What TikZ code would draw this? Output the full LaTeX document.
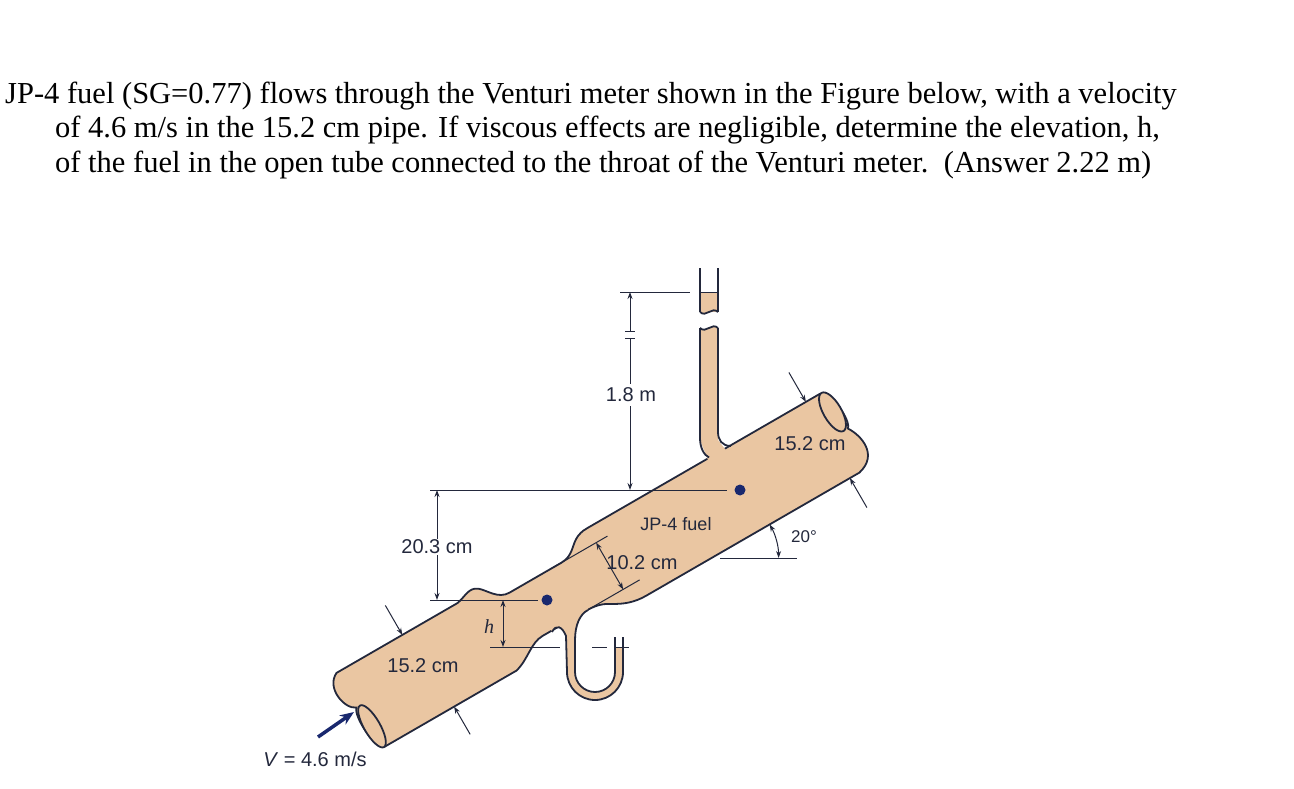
\documentclass[tikz,border=0pt]{standalone}
\usepackage{fontspec}
\setmainfont{Liberation Serif}
\setsansfont{Liberation Sans}
\usetikzlibrary{arrows.meta}
\definecolor{tan}{RGB}{234,198,162}
\definecolor{ink}{RGB}{35,40,60}
\definecolor{navy}{RGB}{25,40,110}
\tikzset{
  pipeline/.style={draw=ink,line width=1.8pt},
  dim/.style={draw=ink,line width=1pt},
  dimarr/.style={dim,-{Stealth[length=7pt,width=5pt]}},
  dimboth/.style={dim,{Stealth[length=7pt,width=5pt]}-{Stealth[length=7pt,width=5pt]}},
  lbl/.style={font=\sffamily\fontsize{20}{24}\selectfont,text=ink,inner sep=1pt},
  title/.style={font=\fontsize{30.5}{34}\selectfont,anchor=base west,inner sep=0pt},
  dot/.style={circle,fill=navy,minimum size=11pt,inner sep=0pt}
}
\begin{document}
\begin{tikzpicture}[x=1pt,y=-1pt]
\useasboundingbox (0,0) rectangle (1294,789);
% title
\node[title] (t1) at (5,104) {JP-4 fuel (SG=0.77) flows through the Venturi meter shown in the Figure below, with a velocity};
\node[title] (t2) at (55,138) {of 4.6 m/s in the 15.2 cm pipe. If viscous effects are negligible, determine the elevation, h,};
\node[title] (t3) at (55,172) {of the fuel in the open tube connected to the throat of the Venturi meter.\ \ (Answer 2.22 m)};

% pipe in local (s,t) coordinates
\begin{scope}[x=1pt,y=1pt,cm={0.866,0.5,0.5,-0.866,(397.5pt,-688.5pt)}]
\path[pipeline,fill=tan] (-45,-44) -- (95,-44)
  .. controls (105,-46) and (112,-52) .. (120,-46)
  .. controls (127,-40) and (132,-27) .. (145,-27) -- (205,-27)
  .. controls (219,-27) and (223,-38) .. (233,-42)
  .. controls (239,-44) .. (250,-44) -- (513,-44)
  .. controls (524,-42) and (527,-5) .. (520,0)
  .. controls (528,12) and (534,38) .. (508,44)
  -- (262,44) .. controls (248,44) and (238,40) .. (228,34)
  .. controls (220,29) and (214,27) .. (202,27) -- (152,27)
  .. controls (138,27) and (128,40) .. (112,44) -- (-40,44)
  .. controls (-50,40) and (-52,2) .. (-45,-4)
  .. controls (-56,-8) and (-62,-36) .. (-45,-44) -- cycle;
\draw[pipeline,fill=tan] (515,-22) ellipse[x radius=9,y radius=22];
\draw[pipeline,fill=tan] (-41,20) ellipse[x radius=8,y radius=24];
% 10.2 cm extension lines and arrow
\draw[dim] (192,-27) -- (258,-27);
\draw[dim] (205,27) -- (264,27);
\draw[dimboth] (245,-27) -- (245,27);
% 15.2 cm arrows
\draw[dimarr] (497,-78) -- (497,-44);
\draw[dimarr] (497,78) -- (497,44);
\draw[dimarr] (31,-78) -- (31,-44);
\draw[dimarr] (40,76) -- (40,44);
\end{scope}

% piezometer tube (upper)
\fill[tan] (700,328) -- (700,440) -- (712,470) -- (732,458) -- (718,440) -- (718,328) .. controls (712,322) and (706,334) .. (700,328) -- cycle;
\draw[pipeline] (700,328) -- (700,438) .. controls (700,448) and (704,455) .. (709,457.5);
\draw[pipeline] (718,328) -- (718,432) .. controls (718,440) and (722,446) .. (731,446);
\draw[pipeline] (700,328) .. controls (706,334) and (712,322) .. (718,328);
\fill[tan] (700,292) rectangle (718,312);
\fill[tan] (700,312) .. controls (706,318) and (712,306) .. (718,312) -- (718,310) -- (700,310) -- cycle;
\draw[pipeline] (700,268) -- (700,312);
\draw[pipeline] (718,268) -- (718,312);
\draw[pipeline] (700,312) .. controls (706,318) and (712,306) .. (718,312);
\draw[dim] (700,292) -- (718,292);

% U tube (lower)
\fill[tan] (552,632) .. controls (556,624) and (562,626) .. (566,636) -- (567,672)
  arc[start angle=180,end angle=0,radius=28] -- (623,647) -- (615,647) -- (615,672)
  arc[start angle=0,end angle=180,radius=20] -- (575,640)
  .. controls (575,625) and (580,614) .. (588,610) -- (586,600) -- (548,622) -- cycle;
\draw[pipeline] (552,632) .. controls (556,624) and (562,626) .. (566,636) -- (567,672)
  arc[start angle=180,end angle=0,radius=28] -- (623,637);
\draw[pipeline] (615,637) -- (615,672) arc[start angle=0,end angle=180,radius=20] -- (575,640)
  .. controls (575,625) and (580,614) .. (588,610);

% dots
\node[dot] (d1) at (547,600) {};
\node[dot] (d2) at (740,490) {};

% 20.3 cm dimension
\draw[dim] (430,490) -- (727,490);
\draw[dim] (430,600) -- (538,600);
\draw[dimboth] (437,490) -- (437,600);
\node[lbl,fill=white] (l203) at (437,547) {20.3 cm};

% 1.8 m dimension
\draw[dim] (620,292) -- (690,292);
\draw[dim,{Stealth[length=7pt,width=5pt]}-] (630,292) -- (630,331);
\draw[dim] (625,331) -- (635,331);
\draw[dim] (625,338) -- (635,338);
\draw[dim,-{Stealth[length=7pt,width=5pt]}] (630,338) -- (630,490);
\node[lbl,fill=white,inner sep=4pt] (l18) at (631,395) {1.8 m};

% h dimension
\draw[dim] (490,647) -- (560,647);
\draw[dim] (592,647) -- (607,647);
\draw[dim] (615,647) -- (629,647);
\draw[dimboth] (503,600) -- (503,647);
\node[lbl,font=\fontsize{20}{24}\selectfont\itshape] (lh) at (489,627) {h};

% 20 deg angle
\draw[dim] (720,558) -- (797,558);
\draw[dimboth] (778.6,558) arc[start angle=0,end angle=-30,radius=67];
\node[lbl,font=\sffamily\fontsize{17}{20}\selectfont] (l20) at (804,537) {20\textdegree};

% labels
\node[lbl] (l152a) at (810,444) {15.2 cm};
\node[lbl,font=\sffamily\fontsize{18}{22}\selectfont] (ljp) at (676,524) {JP-4 fuel};
\node[lbl] (l102) at (642,563) {10.2 cm};
\node[lbl] (l152b) at (423,666) {15.2 cm};
\node[lbl] (lv) at (315,759) {\textit{V} = 4.6 m/s};

% velocity arrow
\coordinate (va) at (318,737);
\coordinate (vb) at (354,712);
\draw[navy,line width=3.5pt,-{Stealth[length=14pt,width=11pt]}] (va) -- (vb);
\end{tikzpicture}
\end{document}
